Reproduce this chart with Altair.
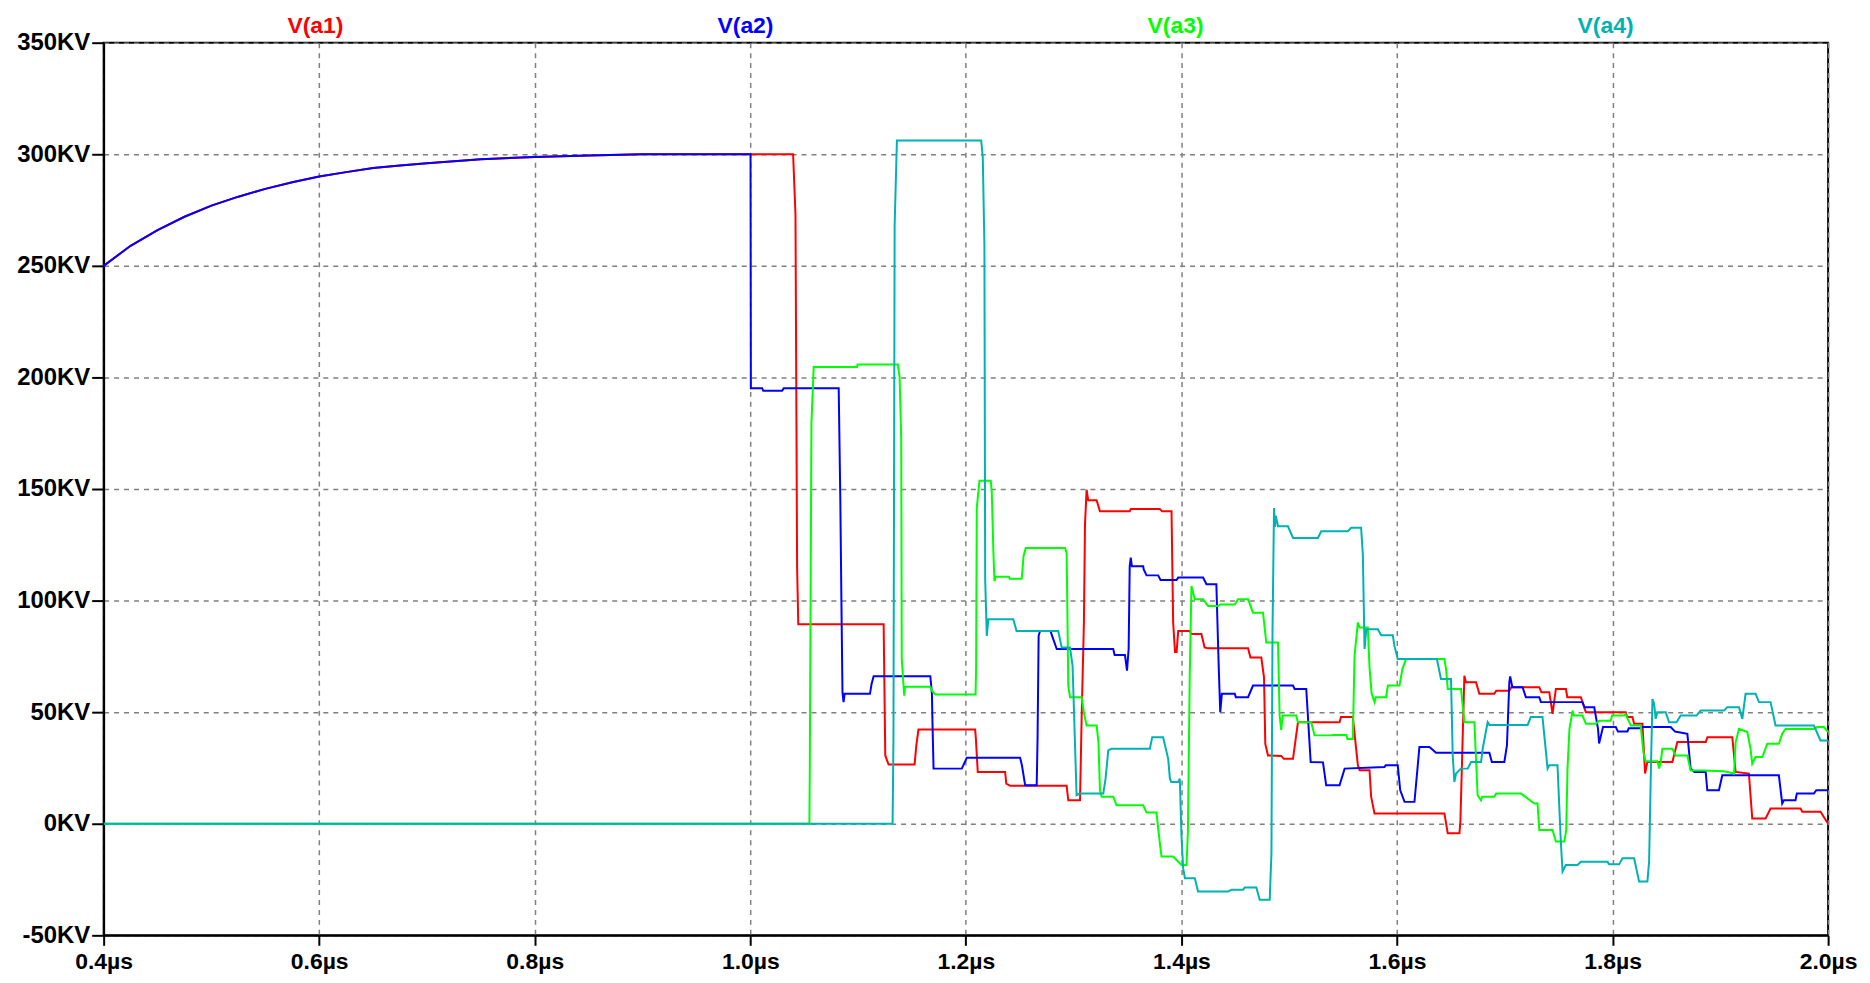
import altair as alt
import pandas as pd

# ---- shared exponential charge-up (V(a1) and V(a2) coincide) ----
t_rise = [0.400, 0.425, 0.450, 0.475, 0.500, 0.525, 0.550, 0.575, 0.600, 0.625,
          0.650, 0.675, 0.700, 0.750, 0.800, 0.850, 0.900]
v_rise = [250, 259, 266, 272, 277, 281, 284.5, 287.5, 290, 292,
          293.8, 295, 296, 297.8, 298.8, 299.5, 300]

# ---- V(a1) (kV) after the rise ----
t_a1 = [1.0397, 1.0419, 1.0434, 1.0445, 1.1237, 1.1252, 1.1283, 1.1524, 1.154, 1.156,
        1.2086, 1.2093, 1.211, 1.2364, 1.2375, 1.241, 1.2935, 1.295, 1.3059, 1.3075,
        1.3095, 1.3105, 1.312, 1.3135, 1.3213, 1.3244, 1.352, 1.353, 1.38, 1.382,
        1.3908, 1.3923, 1.394, 1.3955, 1.397, 1.4078, 1.409, 1.4185, 1.4215, 1.4247,
        1.4618, 1.464, 1.4741, 1.4766, 1.4778, 1.4803, 1.4926, 1.495, 1.5035, 1.5056,
        1.5081, 1.5467, 1.548, 1.559, 1.5637, 1.5653, 1.5745, 1.576, 1.5791, 1.644,
        1.6471, 1.6579, 1.6588, 1.6625, 1.664, 1.6733, 1.6764, 1.6903, 1.692, 1.7042,
        1.706, 1.732, 1.734, 1.7413, 1.7443, 1.7474, 1.7567, 1.758, 1.7706, 1.7752,
        1.8122, 1.8135, 1.8184, 1.82, 1.8277, 1.8302, 1.8323, 1.8555, 1.8601, 1.8864,
        1.888, 1.9111, 1.9142, 1.9265, 1.9296, 1.942, 1.9466, 1.9744, 1.976, 1.9929,
        2.0]
v_a1 = [300, 273, 115, 89.4, 89.4, 30.6, 26.5, 26.5, 35, 42.2,
        42.2, 38, 23.2, 23.2, 18, 17, 17, 10.5, 10.5, 50,
        90, 134, 149.7, 145, 145, 140, 140, 141, 141, 140,
        140, 90.3, 77, 77, 86.4, 86.4, 85, 85, 79, 78.6,
        78.6, 74.5, 74.5, 65.6, 35.8, 30.6, 30.4, 29.1, 29.1, 36.6,
        45.5, 45.5, 47.8, 47.8, 26.2, 24, 24, 12.1, 4.6, 4.6,
        -4.3, -4.3, 0.9, 66.3, 63.4, 63.4, 58.2, 58.2, 59.6, 59.6,
        61.2, 61.2, 58.9, 58.9, 49.2, 60.4, 60.4, 56.7, 56.7, 50,
        50, 47.8, 47.8, 44.8, 44.8, 22.5, 27.7, 27.7, 36.6, 36.6,
        38.8, 38.8, 23.2, 22.5, 2.4, 2.4, 6.8, 6.8, 5.4, 5.4,
        0]

# ---- V(a2) (kV) after the rise ----
t_a2 = [1.0002, 1.0005, 1.011, 1.012, 1.0295, 1.031, 1.082, 1.0835, 1.0845, 1.0855,
        1.0865, 1.0875, 1.111, 1.1125, 1.1144, 1.167, 1.1685, 1.169, 1.17, 1.1962,
        1.2009, 1.2503, 1.252, 1.255, 1.2657, 1.2665, 1.2675, 1.2688, 1.2785, 1.280,
        1.2843, 1.3367, 1.338, 1.3476, 1.3495, 1.351, 1.352, 1.353, 1.354, 1.3645,
        1.365, 1.3676, 1.3784, 1.3806, 1.3954, 1.397, 1.4201, 1.4232, 1.4324, 1.4345,
        1.436, 1.4375, 1.4495, 1.4505, 1.4618, 1.4664, 1.5035, 1.505, 1.5158, 1.5199,
        1.5313, 1.5343, 1.5467, 1.5514, 1.5884, 1.5895, 1.6007, 1.603, 1.607, 1.6162,
        1.6208, 1.6301, 1.6362, 1.6857, 1.688, 1.6996, 1.702, 1.7042, 1.705, 1.707,
        1.7165, 1.7196, 1.732, 1.7335, 1.7721, 1.774, 1.783, 1.7865, 1.7875, 1.7911,
        1.803, 1.805, 1.8138, 1.815, 1.8261, 1.828, 1.8539, 1.858, 1.8694, 1.8724,
        1.876, 1.8864, 1.8879, 1.8987, 1.9018, 1.9543, 1.9574, 1.959, 1.9697, 1.971,
        1.9868, 1.989, 2.0]
v_a2 = [300, 195.1, 195.1, 194, 194, 195.1, 195.1, 145.2, 100, 58.9,
        54.5, 58.2, 58.2, 62.6, 66.1, 66.1, 58.2, 45.5, 24.7, 24.7,
        29.6, 29.6, 26.2, 17.2, 17.2, 38, 84.2, 86.4, 86.4, 84.2,
        78.3, 78.3, 75.6, 75.6, 68.6, 78.3, 115.4, 119.2, 115.4, 115.4,
        114, 111.3, 111.3, 109.2, 109.2, 110.3, 110.3, 107.3, 107.3, 71.6,
        50, 58.2, 58.2, 56.7, 56.7, 61.9, 61.9, 60.4, 60.4, 27.7,
        27.5, 17.2, 17.2, 24.7, 25.4, 26.2, 26.2, 15, 9.8, 9.8,
        34.4, 34.4, 31.8, 31.8, 27.7, 27.7, 35.1, 63.4, 66, 61.2,
        61.2, 56.7, 56.7, 54.5, 54.5, 52.2, 52.2, 42.5, 36, 43.3,
        43.3, 41.3, 41.3, 42.8, 42.8, 43.3, 43.3, 41.3, 40.3, 24.7,
        23.2, 23.2, 15, 15, 21.7, 21.7, 9.1, 10.5, 10.5, 13.5,
        13.5, 15, 15]

# ---- V(a3) (kV) ----
t_a3 = [0.4, 1.0548, 1.0552, 1.0567, 1.0588, 1.099, 1.0995, 1.1369, 1.1385, 1.14,
        1.1405, 1.1428, 1.1435, 1.167, 1.1685, 1.1716, 1.209, 1.2095, 1.2101, 1.2126,
        1.2231, 1.224, 1.2255, 1.2265, 1.2275, 1.24, 1.2405, 1.2518, 1.2535, 1.2555,
        1.292, 1.2935, 1.295, 1.2966, 1.3074, 1.310, 1.312, 1.3213, 1.323, 1.3244,
        1.326, 1.3367, 1.3398, 1.3645, 1.3676, 1.3768, 1.38, 1.3815, 1.3923, 1.4,
        1.4047, 1.406, 1.4077, 1.4093, 1.4124, 1.4201, 1.4247, 1.434, 1.436, 1.4495,
        1.4525, 1.4618, 1.4664, 1.4757, 1.4787, 1.4896, 1.4911, 1.4925, 1.494, 1.5065,
        1.508, 1.5204, 1.5235, 1.539, 1.5405, 1.5529, 1.554, 1.559, 1.5606, 1.5637,
        1.5653, 1.5729, 1.5745, 1.5765, 1.5792, 1.58, 1.5899, 1.5915, 1.6023, 1.605,
        1.6084, 1.644, 1.6455, 1.6471, 1.6594, 1.6625, 1.6718, 1.6748, 1.6779, 1.679,
        1.6903, 1.692, 1.715, 1.7274, 1.7304, 1.732, 1.7443, 1.7474, 1.7552, 1.757,
        1.7582, 1.760, 1.7629, 1.764, 1.7721, 1.7752, 1.7844, 1.7876, 1.7983, 1.7995,
        1.8107, 1.812, 1.8169, 1.8261, 1.8286, 1.8307, 1.8416, 1.8432, 1.8447, 1.8462,
        1.8555, 1.8585, 1.8694, 1.8724, 1.8833, 1.9034, 1.9127, 1.9142, 1.9173, 1.925,
        1.928, 1.9296, 1.9327, 1.9389, 1.9435, 1.9543, 1.9574, 1.9605, 1.9868, 1.990,
        1.996, 2.0]
v_a3 = [0, 0, 26.2, 179.5, 204.7, 204.7, 205.8, 205.8, 200.3, 172.8,
        73.8, 57.4, 61.4, 61.4, 59.6, 57.9, 57.9, 70.1, 141.5, 153.7,
        153.7, 148.9, 122.1, 108.7, 110.7, 110.7, 109.8, 109.8, 119.9, 123.6,
        123.6, 121.4, 61.9, 56.7, 56.7, 48.5, 44, 44, 36.6, 15,
        12.1, 12.1, 8.3, 8.3, 5, 5, -8.8, -14.7, -14.7, -18.5,
        -18.5, -3.6, 66.3, 106.5, 100.6, 100.6, 97.6, 97.6, 98.3, 98.3,
        100.6, 100.6, 94.6, 94.6, 81.2, 81.2, 48.5, 42, 48.5, 48.5,
        45.5, 45.5, 39.6, 39.6, 39.8, 39.8, 38, 38, 75.3, 90.2,
        87.9, 87.9, 70.1, 58.2, 54.5, 56.7, 56.7, 61.9, 61.9, 69.3,
        73.8, 73.8, 69.3, 60.4, 60.4, 45.5, 45.5, 12.8, 10.5, 12.1,
        12.1, 13.5, 13.5, 9.1, 9.1, -2.8, -2.8, -8, -8, -2.8,
        24.7, 42.5, 50.7, 48.5, 48.5, 44.8, 44.8, 46.2, 46.2, 48.5,
        48.5, 49.2, 44, 44, 32.1, 28, 28, 24.7, 27.8, 33.6,
        33.6, 30.6, 30.6, 23.9, 23.9, 23.5, 22.5, 36.6, 42.5, 41.1,
        33.6, 26.9, 29.9, 29.9, 35.8, 35.8, 40.3, 42.5, 42.5, 43.3,
        43.3, 41.1]

# ---- V(a4) (kV) ----
t_a4 = [0.4, 1.132, 1.1328, 1.1339, 1.136, 1.2142, 1.2157, 1.2172, 1.2179, 1.2194,
        1.2209, 1.244, 1.247, 1.2857, 1.2889, 1.2966, 1.299, 1.3027, 1.3059, 1.3275,
        1.3296, 1.3321, 1.335, 1.3707, 1.3729, 1.383, 1.3877, 1.3893, 1.3905, 1.397,
        1.3985, 1.4, 1.4016, 1.4032, 1.4124, 1.4154, 1.4433, 1.4464, 1.4571, 1.4587,
        1.4695, 1.4726, 1.4819, 1.4835, 1.4845, 1.4859, 1.4868, 1.4875, 1.4896, 1.4988,
        1.5035, 1.5266, 1.5297, 1.5544, 1.5575, 1.5667, 1.5683, 1.5699, 1.5715, 1.5822,
        1.5853, 1.5961, 1.5976, 1.6007, 1.637, 1.6408, 1.6501, 1.6517, 1.6532, 1.6548,
        1.6594, 1.6656, 1.6687, 1.678, 1.6795, 1.6841, 1.6857, 1.7212, 1.7242, 1.735,
        1.7397, 1.7413, 1.7489, 1.752, 1.7536, 1.7566, 1.7675, 1.7706, 1.7953, 1.7968,
        1.8061, 1.8092, 1.82, 1.8246, 1.8323, 1.8339, 1.8354, 1.837, 1.8385, 1.840,
        1.8415, 1.8493, 1.8524, 1.8593, 1.8632, 1.8779, 1.8817, 1.9034, 1.9064, 1.9173,
        1.9204, 1.9234, 1.9327, 1.9358, 1.9466, 1.9512, 1.9868, 1.9929, 2.0]
v_a4 = [0, 0, 38, 268, 306.2, 306.2, 298.5, 259, 109.5, 84.2,
        91.6, 91.6, 86.4, 86.4, 79, 79, 70.8, 12.8, 13.5, 13.5,
        20.2, 32.9, 33.6, 33.6, 38.8, 38.8, 29.1, 20.2, 18.7, 18.7,
        20.2, -5, -20, -24.4, -24.4, -30.4, -30.4, -29.6, -29.6, -28.6,
        -28.6, -34.1, -34.1, -13.3, 87.2, 141.5, 133, 138, 133.3, 133.3,
        128.1, 128.1, 131.1, 131.1, 132.6, 132.6, 120.7, 78.3, 87.2, 87.2,
        84.5, 84.5, 79.7, 73.8, 73.8, 64.9, 64.9, 30.6, 18.7, 22.5,
        24.7, 24.7, 27.7, 27.7, 33.6, 45.5, 44.3, 44.3, 47.8, 47.8,
        24.7, 26.2, 26.2, -8, -21.4, -18.5, -18.5, -17, -17, -18.2,
        -18.2, -15.5, -15.5, -25.9, -25.9, -17, 20.2, 55.9, 54, 47,
        50, 50, 45.5, 45.5, 48.5, 48.5, 50.7, 50.7, 52.2, 52.2,
        47, 58.2, 58.2, 54.5, 54.5, 44, 44, 37.3, 37.3]

series_names = ["V(a1)", "V(a2)", "V(a3)", "V(a4)"]
series_colors = ["#FF0000", "#0000FF", "#00FF00", "#00B2B2"]
label_t = [0.5965, 0.9955, 1.3945, 1.7935]

x_ticks = [0.4, 0.6, 0.8, 1.0, 1.2, 1.4, 1.6, 1.8, 2.0]
y_ticks = [-50, 0, 50, 100, 150, 200, 250, 300, 350]

rows = []
traces = [
    (series_names[0], t_rise + t_a1, v_rise + v_a1),
    (series_names[1], t_rise + t_a2, v_rise + v_a2),
    (series_names[2], t_a3, v_a3),
    (series_names[3], t_a4, v_a4),
]
for k, (name, ts, vs) in enumerate(traces):
    for i, (t, v) in enumerate(zip(ts, vs)):
        rows.append({"t": t, "v": v, "series": name, "idx": i})
df = pd.DataFrame(rows)

labels_df = pd.DataFrame({"t": label_t, "series": series_names})

FONT = "Liberation Sans"
FS = 23

x_enc = alt.X("t:Q", scale=alt.Scale(domain=[0.4, 2.0], nice=False, zero=False),
              axis=alt.Axis(values=x_ticks,
                            labelExpr="format(datum.value, '.1f') + 'µs'",
                            title=None, grid=True, tickSize=10, labelPadding=5,
                            labelFlush=False, labelFontSize=23))
y_enc = alt.Y("v:Q", scale=alt.Scale(domain=[-50, 350], nice=False, zero=False),
              axis=alt.Axis(values=y_ticks,
                            labelExpr="datum.value + 'KV'",
                            title=None, grid=True, tickSize=12, labelPadding=2,
                            labelFlush=False, labelFontSize=24))
color_scale = alt.Scale(domain=series_names, range=series_colors)

lines = alt.Chart(df).mark_line(strokeWidth=2, interpolate="linear", clip=True).encode(
    x=x_enc,
    y=y_enc,
    color=alt.Color("series:N", scale=color_scale, legend=None),
    order=alt.Order("idx:Q"),
)

labels = alt.Chart(labels_df).mark_text(
    font=FONT, fontSize=FS, fontWeight="bold", baseline="alphabetic", align="center",
).encode(
    x=alt.X("t:Q", scale=alt.Scale(domain=[0.4, 2.0], nice=False, zero=False)),
    y=alt.value(-10),
    text="series:N",
    color=alt.Color("series:N", scale=color_scale, legend=None),
)

chart = alt.layer(lines, labels).properties(
    width=1731,
    height=896,
    autosize=alt.AutoSizeParams(type="none"),
    padding={"left": 96, "top": 33, "right": 34, "bottom": 38},
    background="white",
).configure_view(
    stroke="black", strokeWidth=2
).configure_axis(
    domainColor="black", domainWidth=2,
    tickColor="black", tickWidth=2,
    gridColor="#808080", gridDash=[5, 5], gridWidth=1.5,
    labelFont=FONT, labelFontWeight="bold", labelColor="black",
)

chart.save("out.html", embed_options={"renderer": "svg", "actions": False})
